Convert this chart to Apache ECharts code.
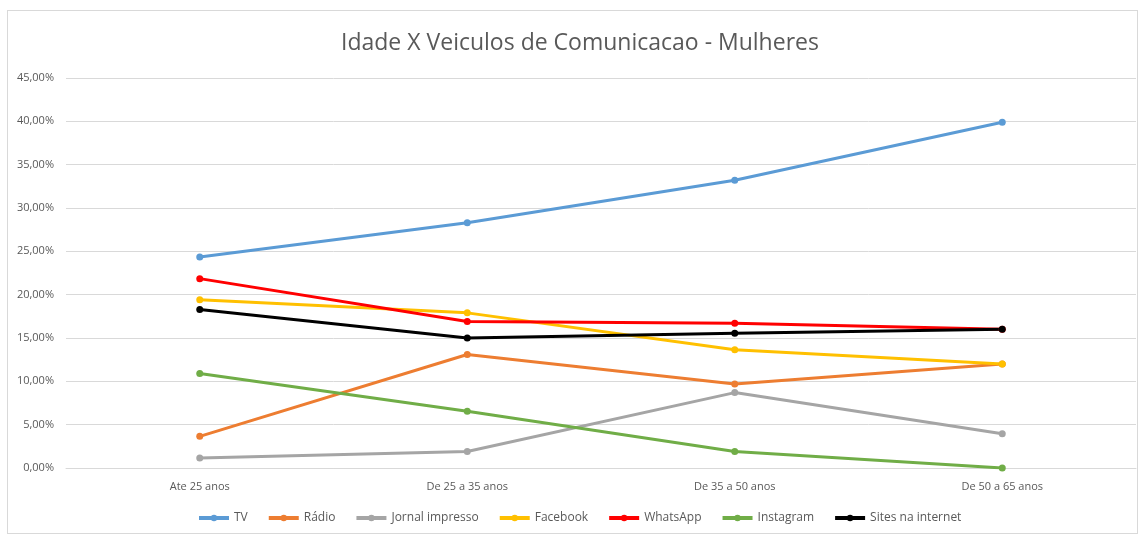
<!DOCTYPE html>
<html>
<head>
<meta charset="utf-8">
<script src="https://cdn.jsdelivr.net/npm/echarts@6/dist/echarts.min.js"></script>
<style>
  html, body { margin: 0; padding: 0; background: #fff; }
  #box { position: absolute; left: 7px; top: 10px; width: 1131px; height: 524px; border: 1px solid #d9d9d9; box-sizing: border-box; }
  #main { position: absolute; left: 0; top: 0; width: 1140px; height: 536px; }
</style>
</head>
<body>
<div id="box"></div>
<div id="main"></div>
<script>
var categories = ['Ate 25 anos', 'De 25 a 35 anos', 'De 35 a 50 anos', 'De 50 a 65 anos'];
var tv        = [24.35, 28.3, 33.2, 39.9];
var radio     = [3.65, 13.1, 9.7, 12.0];
var jornal    = [1.15, 1.9, 8.7, 3.95];
var facebook  = [19.4, 17.9, 13.65, 12.0];
var whatsapp  = [21.85, 16.9, 16.7, 16.0];
var instagram = [10.9, 6.55, 1.9, 0.0];
var sites     = [18.3, 15.0, 15.55, 16.0];

var dom = document.getElementById('main');
var myChart = echarts.init(dom);

function serie(name, data, color) {
  return {
    name: name,
    type: 'line',
    data: data,
    symbol: 'circle',
    symbolSize: 7,
    lineStyle: { color: color, width: 3 },
    itemStyle: { color: color },
    emphasis: { disabled: true }
  };
}

var option = {
  animation: false,
  title: {
    text: 'Idade X Veiculos de Comunicacao - Mulheres',
    left: 336,
    top: 27,
    textStyle: { fontFamily: 'Open Sans', fontSize: 23, fontWeight: 'normal', color: '#595959' }
  },
  legend: {
    bottom: 7,
    left: 192,
    itemWidth: 30,
    itemHeight: 8,
    itemGap: 19,
    lineStyle: { width: 4 },
    textStyle: { fontFamily: 'Open Sans', fontSize: 12, color: '#595959' },
    data: ['TV', 'Rádio', 'Jornal impresso', 'Facebook', 'WhatsApp', 'Instagram', 'Sites na internet']
  },
  grid: { left: 66, right: 4, top: 78, bottom: 68, containLabel: false },
  xAxis: {
    type: 'category',
    data: categories,
    boundaryGap: true,
    axisLine: { lineStyle: { color: '#d9d9d9' } },
    axisTick: { show: false },
    axisLabel: { fontFamily: 'Open Sans', fontSize: 11, color: '#595959', margin: 13 }
  },
  yAxis: {
    type: 'value',
    min: 0,
    max: 45,
    interval: 5,
    axisLine: { show: false },
    axisTick: { show: false },
    splitLine: { lineStyle: { color: '#d9d9d9' } },
    axisLabel: {
      fontFamily: 'Open Sans', fontSize: 11, color: '#595959', margin: 12,
      formatter: function (v) { return v.toFixed(2).replace('.', ',') + '%'; }
    }
  },
  series: [
    serie('TV', tv, '#5B9BD5'),
    serie('Rádio', radio, '#ED7D31'),
    serie('Jornal impresso', jornal, '#A5A5A5'),
    serie('Facebook', facebook, '#FFC000'),
    serie('WhatsApp', whatsapp, '#FF0000'),
    serie('Instagram', instagram, '#70AD47'),
    serie('Sites na internet', sites, '#000000')
  ]
};

if (option && typeof option === 'object') {
  myChart.setOption(option);
}
</script>
</body>
</html>
